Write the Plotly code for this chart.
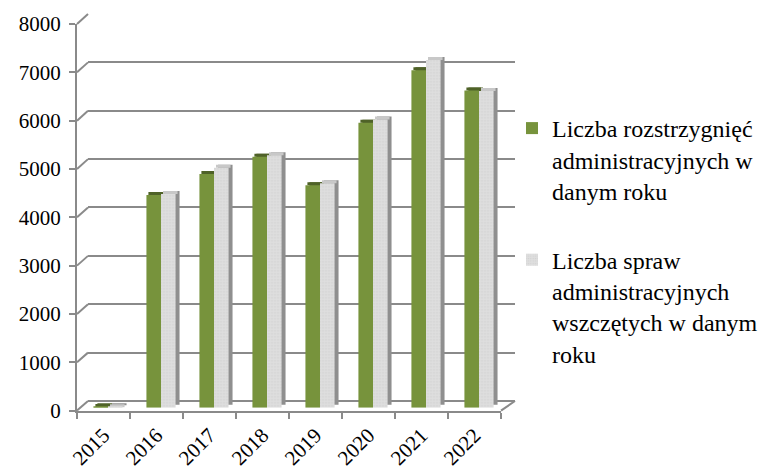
import plotly.graph_objects as go

# --- data ---
years = ["2015", "2016", "2017", "2018", "2019", "2020", "2021", "2022"]
decisions = [15, 4400, 4830, 5190, 4600, 5890, 6980, 6560]   # rozstrzygnięcia
cases = [10, 4420, 4960, 5220, 4640, 5960, 7190, 6550]       # sprawy wszczęte
y_ticks = [0, 1000, 2000, 3000, 4000, 5000, 6000, 7000, 8000]

name_dec = "Liczba rozstrzygnięć<br>administracyjnych w<br>danym roku"
name_cas = "Liczba spraw<br>administracyjnych<br>wszczętych w danym<br>roku"

GREEN, GREEN_DARK = "#77933c", "#4f6228"
GREY, GREY_DOT, GREY_TOP, GREY_SIDE = "#dedede", "#c4c4c4", "#c8c8c8", "#8f8f8f"
AXIS = "#8a8a8a"
FONT = "Times New Roman, Liberation Serif, Tinos, DejaVu Serif, serif"

W, H = 783, 475
OFF = 8        # page body margin: screen px -> figure px
YMAX = 8000
YTOP = 8010    # a hair above the last tick so its gridline is kept

# pseudo-3D planes (screen px): front axes, bar plane, back wall
FRONT = dict(x0=77, x1=501, y0=410.6, y1=24)
MID = dict(x0=81.5, x1=505.5, y0=407.7, y1=20.8)
BACK = dict(x0=88, x1=515, y0=401, y1=14)


def fx(p):
    return (p - OFF) / W


def fy(p):
    return 1 - (p - OFF) / H


def xdom(b):
    return [fx(b["x0"]), fx(b["x1"])]


def ypix(b, v):
    return b["y0"] + (b["y1"] - b["y0"]) * v / YMAX


def ydom(b):
    return [fy(b["y0"]), fy(ypix(b, YTOP))]


# bar geometry in category units (53 px per category)
BW = 0.275
DX = 0.075                       # depth shift to the right
DY = 3 / ((MID["y0"] - MID["y1"]) / YMAX)   # depth shift upwards, in value units

fig = go.Figure()

common = dict(xaxis="x3", yaxis="y3", showlegend=False, hoverinfo="skip",
              marker_line_width=0)
# side faces
fig.add_trace(go.Bar(x=years, y=decisions, base=[DY] * len(years), offset=-BW + DX,
                     width=BW, marker_color=GREEN_DARK, **common))
fig.add_trace(go.Bar(x=years, y=cases, base=[DY] * len(years), offset=DX,
                     width=BW, marker_color=GREY_SIDE, **common))
# top faces
fig.add_trace(go.Bar(x=years, y=[DY] * len(years), base=decisions, offset=-BW + DX / 2,
                     width=BW, marker_color=GREEN_DARK, **common))
fig.add_trace(go.Bar(x=years, y=[DY] * len(years), base=cases, offset=DX / 2,
                     width=BW, marker_color=GREY_TOP, **common))
# front faces
fig.add_trace(go.Bar(x=years, y=decisions, offset=-BW, width=BW, name=name_dec,
                     marker=dict(color=GREEN, line_width=0), legendgroup="a",
                     xaxis="x3", yaxis="y3", hoverinfo="x+y"))
fig.add_trace(go.Bar(x=years, y=cases, offset=0, width=BW, name=name_cas,
                     marker=dict(color=GREY, line_width=0,
                                 pattern=dict(shape=".", size=3, solidity=0.25,
                                              fgcolor=GREY_DOT, bgcolor=GREY)),
                     legendgroup="b", xaxis="x3", yaxis="y3", hoverinfo="x+y"))

# invisible anchors for the front and back axes
fig.add_trace(go.Scatter(x=years, y=cases, xaxis="x2", yaxis="y2", mode="markers",
                         marker_opacity=0, showlegend=False, hoverinfo="skip"))
fig.add_trace(go.Scatter(x=years, y=cases, xaxis="x", yaxis="y", mode="markers",
                         marker_opacity=0, showlegend=False, hoverinfo="skip"))

cat_range = [-0.5, len(years) - 0.5]

# connectors front axis -> back wall, and floor edge
shapes = []
for v in y_ticks:
    shapes.append(dict(type="line", xref="paper", yref="paper",
                       x0=fx(FRONT["x0"]), y0=fy(ypix(FRONT, v)),
                       x1=fx(BACK["x0"]), y1=fy(ypix(BACK, v)),
                       line=dict(color=AXIS, width=2), layer="below"))
shapes.append(dict(type="line", xref="paper", yref="paper",
                   x0=fx(FRONT["x1"]), y0=fy(FRONT["y0"]),
                   x1=fx(BACK["x1"]), y1=fy(BACK["y0"]),
                   line=dict(color=AXIS, width=2), layer="below"))

fig.update_layout(
    width=W, height=H,
    margin=dict(l=0, r=0, t=0, b=0, autoexpand=False),
    paper_bgcolor="white", plot_bgcolor="rgba(0,0,0,0)",
    barmode="overlay",
    font=dict(family=FONT, color="black", size=21),
    shapes=shapes,
    # back wall with gridlines
    xaxis=dict(domain=xdom(BACK), range=cat_range, type="category", anchor="y",
               visible=False, fixedrange=True, automargin=False),
    yaxis=dict(domain=ydom(BACK), range=[0, YTOP], anchor="x", tickvals=y_ticks,
               showgrid=True, gridcolor=AXIS, gridwidth=2,
               zeroline=True, zerolinecolor=AXIS, zerolinewidth=2,
               showticklabels=False, ticks="", showline=False, fixedrange=True,
               automargin=False),
    # front axes with labels
    xaxis2=dict(domain=xdom(FRONT), range=cat_range, type="category", anchor="y2",
                showgrid=False, showline=True, linecolor=AXIS, linewidth=2,
                ticks="outside", tickson="boundaries", ticklen=6, tickcolor=AXIS,
                tickwidth=2, tickangle=-45, tickfont=dict(family=FONT, size=21),
                ticklabelstandoff=2, fixedrange=True, automargin=False),
    yaxis2=dict(domain=ydom(FRONT), range=[0, YTOP], anchor="x2", tickvals=y_ticks,
                showgrid=False, zeroline=False, showline=True, linecolor=AXIS,
                linewidth=2, ticks="outside", ticklen=6, tickcolor=AXIS, tickwidth=2,
                tickfont=dict(family=FONT, size=21), ticklabelstandoff=4,
                fixedrange=True, automargin=False),
    # bar plane (hidden)
    xaxis3=dict(domain=xdom(MID), range=cat_range, type="category", anchor="y3",
                visible=False, fixedrange=True, automargin=False),
    yaxis3=dict(domain=ydom(MID), range=[0, YTOP], anchor="x3", visible=False,
                fixedrange=True, automargin=False),
    legend=dict(x=fx(512), y=fy(106), xanchor="left", yanchor="top",
                valign="top", font=dict(family=FONT, size=24, color="black"),
                tracegroupgap=35, bgcolor="rgba(0,0,0,0)"),
)

fig.write_html("out.html")
